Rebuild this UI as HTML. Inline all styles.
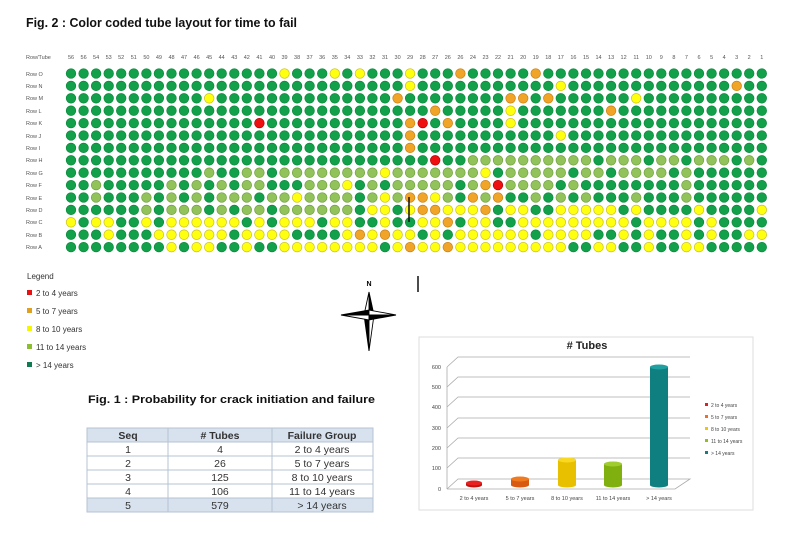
<!DOCTYPE html>
<html><head><meta charset="utf-8"><style>
html,body{margin:0;padding:0;background:#fff;width:797px;height:535px;overflow:hidden}
svg{display:block;font-family:"Liberation Sans",Arial,sans-serif}
</style></head><body>
<svg id="s" width="797" height="535" viewBox="0 0 797 535" xmlns="http://www.w3.org/2000/svg">
<text x="26" y="27" font-size="13" font-weight="bold" fill="#111" textLength="271" lengthAdjust="spacingAndGlyphs">Fig. 2 : Color coded tube layout for time to fail</text>
<g font-size="5.5" fill="#555">
<text x="26" y="59">Row/Tube</text>
<text x="26" y="76">Row O</text><text x="26" y="88">Row N</text><text x="26" y="100">Row M</text>
<text x="26" y="113">Row L</text><text x="26" y="125">Row K</text><text x="26" y="138">Row J</text>
<text x="26" y="150">Row I</text><text x="26" y="162">Row H</text><text x="26" y="175">Row G</text>
<text x="26" y="187">Row F</text><text x="26" y="200">Row E</text><text x="26" y="212">Row D</text>
<text x="26" y="224">Row C</text><text x="26" y="237">Row B</text><text x="26" y="249">Row A</text>
</g>
<g id="hdr" font-size="5.5" fill="#555" text-anchor="middle">
<text x="71" y="59">56</text><text x="83.6" y="59">56</text><text x="96.1" y="59">54</text><text x="108.7" y="59">53</text><text x="121.2" y="59">52</text><text x="133.8" y="59">51</text><text x="146.4" y="59">50</text><text x="158.9" y="59">49</text><text x="171.5" y="59">48</text><text x="184" y="59">47</text><text x="196.6" y="59">46</text><text x="209.2" y="59">45</text><text x="221.7" y="59">44</text><text x="234.3" y="59">43</text><text x="246.8" y="59">42</text><text x="259.4" y="59">41</text><text x="272" y="59">40</text><text x="284.5" y="59">39</text><text x="297.1" y="59">38</text><text x="309.6" y="59">37</text><text x="322.2" y="59">36</text><text x="334.8" y="59">35</text><text x="347.3" y="59">34</text><text x="359.9" y="59">33</text><text x="372.4" y="59">32</text><text x="385" y="59">31</text><text x="397.6" y="59">30</text><text x="410.1" y="59">29</text><text x="422.7" y="59">28</text><text x="435.2" y="59">27</text><text x="447.8" y="59">26</text><text x="460.4" y="59">26</text><text x="472.9" y="59">24</text><text x="485.5" y="59">23</text><text x="498" y="59">22</text><text x="510.6" y="59">21</text><text x="523.2" y="59">20</text><text x="535.7" y="59">19</text><text x="548.3" y="59">18</text><text x="560.8" y="59">17</text><text x="573.4" y="59">16</text><text x="586" y="59">15</text><text x="598.5" y="59">14</text><text x="611.1" y="59">13</text><text x="623.6" y="59">12</text><text x="636.2" y="59">11</text><text x="648.8" y="59">10</text><text x="661.3" y="59">9</text><text x="673.9" y="59">8</text><text x="686.4" y="59">7</text><text x="699" y="59">6</text><text x="711.6" y="59">5</text><text x="724.1" y="59">4</text><text x="736.7" y="59">3</text><text x="749.2" y="59">2</text><text x="761.8" y="59">1</text>
</g>
<g id="dots"></g>
<line x1="409" y1="197" x2="409" y2="222" stroke="#111" stroke-width="1.5"/>

<g font-size="8" fill="#333">
<text x="27" y="279">Legend</text>
<rect x="27" y="290" width="5" height="5" fill="#e81010"/><text x="36" y="296">2 to 4 years</text>
<rect x="27" y="308" width="5" height="5" fill="#e0a020"/><text x="36" y="314">5 to 7 years</text>
<rect x="27" y="326" width="5" height="5" fill="#f6f600"/><text x="36" y="332">8 to 10 years</text>
<rect x="27" y="344" width="5" height="5" fill="#8cbf30"/><text x="36" y="350">11 to 14 years</text>
<rect x="27" y="362" width="5" height="5" fill="#107a50"/><text x="36" y="368">&gt; 14 years</text>
</g>

<text x="369" y="286" font-size="7" font-weight="bold" text-anchor="middle">N</text>
<g stroke="#000" stroke-width="0.9">
<polygon points="369,292 374,315 369,315" fill="#000"/><polygon points="369,292 364,315 369,315" fill="#fff"/>
<polygon points="369,351 364,315 369,315" fill="#000"/><polygon points="369,351 374,315 369,315" fill="#fff"/>
<polygon points="341,315 369,310 369,315" fill="#000"/><polygon points="341,315 369,320 369,315" fill="#fff"/>
<polygon points="396,315 369,320 369,315" fill="#000"/><polygon points="396,315 369,310 369,315" fill="#fff"/>
</g>
<line x1="418" y1="276" x2="418" y2="292" stroke="#111" stroke-width="1.5"/>

<text x="88" y="403" font-size="11" font-weight="bold" fill="#111" textLength="287" lengthAdjust="spacingAndGlyphs">Fig. 1 :  Probability for crack initiation and failure</text>

<g font-size="10.5" fill="#333" text-anchor="middle">
<rect x="87" y="428" width="286" height="14" fill="#d7e2ee"/>
<rect x="87" y="498" width="286" height="14" fill="#d7e2ee"/>
<g stroke="#b5c3d3" stroke-width="1" fill="none">
<rect x="87" y="428" width="286" height="84"/>
<line x1="87" y1="442" x2="373" y2="442"/><line x1="87" y1="456" x2="373" y2="456"/><line x1="87" y1="470" x2="373" y2="470"/><line x1="87" y1="484" x2="373" y2="484"/><line x1="87" y1="498" x2="373" y2="498"/>
<line x1="168" y1="428" x2="168" y2="512"/><line x1="272" y1="428" x2="272" y2="512"/>
</g>
<text x="128" y="439" font-weight="bold">Seq</text><text x="220" y="439" font-weight="bold"># Tubes</text><text x="322" y="439" font-weight="bold">Failure Group</text>
<text x="128" y="453">1</text><text x="220" y="453">4</text><text x="322" y="453">2 to 4 years</text>
<text x="128" y="467">2</text><text x="220" y="467">26</text><text x="322" y="467">5 to 7 years</text>
<text x="128" y="481">3</text><text x="220" y="481">125</text><text x="322" y="481">8 to 10 years</text>
<text x="128" y="495">4</text><text x="220" y="495">106</text><text x="322" y="495">11 to 14 years</text>
<text x="128" y="509">5</text><text x="220" y="509">579</text><text x="322" y="509">&gt; 14 years</text>
</g>

<rect x="419" y="337" width="334" height="173" fill="#fff" stroke="#ddd"/>
<text x="587" y="349" font-size="11" font-weight="bold" text-anchor="middle" fill="#222">#  Tubes</text>
<g stroke="#aaa" stroke-width="0.8" fill="none">
<polyline points="447,489 458,479 690,479 675,489 447,489"/>
<polyline points="447,468 458,458 690,458"/>
<polyline points="447,448 458,438 690,438"/>
<polyline points="447,428 458,418 690,418"/>
<polyline points="447,407 458,397 690,397"/>
<polyline points="447,387 458,377 690,377"/>
<polyline points="447,367 458,357 690,357"/>
<line x1="447" y1="367" x2="447" y2="489"/>
</g>
<g font-size="5.5" fill="#444" text-anchor="end">
<text x="441" y="491">0</text><text x="441" y="470">100</text><text x="441" y="450">200</text><text x="441" y="430">300</text><text x="441" y="409">400</text><text x="441" y="389">500</text><text x="441" y="369">600</text>
</g>
<g font-size="5.5" fill="#444" text-anchor="middle">
<text x="474" y="500">2 to 4 years</text><text x="520" y="500">5 to 7 years</text><text x="567" y="500">8 to 10 years</text><text x="613" y="500">11 to 14 years</text><text x="659" y="500">&gt; 14 years</text>
</g>
<g>
<rect x="466" y="483" width="16" height="2" fill="#c01010"/><ellipse cx="474" cy="485" rx="8" ry="2.5" fill="#c01010"/><ellipse cx="474" cy="483" rx="8" ry="2.5" fill="#e82020"/>
<rect x="511" y="479" width="18" height="6" fill="#d85a10"/><ellipse cx="520" cy="485" rx="9" ry="2.5" fill="#d85a10"/><ellipse cx="520" cy="479" rx="9" ry="2.5" fill="#f07a20"/>
<rect x="558" y="460" width="18" height="25" fill="#e8c000"/><ellipse cx="567" cy="485" rx="9" ry="2.5" fill="#e8c000"/><ellipse cx="567" cy="460" rx="9" ry="2.5" fill="#f8d820"/>
<rect x="604" y="464" width="18" height="21" fill="#80b010"/><ellipse cx="613" cy="485" rx="9" ry="2.5" fill="#80b010"/><ellipse cx="613" cy="464" rx="9" ry="2.5" fill="#a0cc30"/>
<rect x="650" y="367" width="18" height="118" fill="#0f7f80"/><ellipse cx="659" cy="485" rx="9" ry="2.5" fill="#0f7f80"/><ellipse cx="659" cy="367" rx="9" ry="2.5" fill="#20a0a0"/>
</g>
<g font-size="5" fill="#444">
<rect x="705" y="403" width="3" height="3" fill="#e02020"/><text x="711" y="407">2 to 4 years</text>
<rect x="705" y="415" width="3" height="3" fill="#f07020"/><text x="711" y="419">5 to 7 years</text>
<rect x="705" y="427" width="3" height="3" fill="#f0c800"/><text x="711" y="431">8 to 10 years</text>
<rect x="705" y="439" width="3" height="3" fill="#90c020"/><text x="711" y="443">11 to 14 years</text>
<rect x="705" y="451" width="3" height="3" fill="#108080"/><text x="711" y="455">&gt; 14 years</text>
</g>
</svg>
<script>
var rows=[
"GGGGGGGGGGGGGGGG"+"GYGGGYGYGGGYGGGOGGGG"+"GOGGGGGGGGGGGGGGGGGG",
"GGGGGGGGGGGGGGGG"+"GGGGGGGGGGGYGGGGGGGG"+"GGGYGGGGGGGGGGGGGOGG",
"GGGGGGGGGGGYGGGG"+"GGGGGGGGGGOGGGGGGGGO"+"OGOGGGGGGYGGGGGGGGGG",
"GGGGGGGGGGGGGGGG"+"GGGGGGGGGGGGGOGGGGGY"+"GGGGGGGOGGGGGGGGGGGG",
"GGGGGGGGGGGGGGGR"+"GGGGGGGGGGGORGOGGGGY"+"GGGGGGGGGGGGGGGGGGGG",
"GGGGGGGGGGGGGGGG"+"GGGGGGGGGGGOGGGGGGGG"+"GGGYGGGGGGGGGGGGGGGG",
"GGGGGGGGGGGGGGGG"+"GGGGGGGGGGGOGGGGGGGG"+"GGGGGGGGGGGGGGGGGGGG",
"GGGGGGGGGGGGGGGG"+"GGGGGGGGGGGGGRGGLLLL"+"LLLLLLGLLLGLLGLLLGLG",
"GGGGGGGGGGGLGGLL"+"GLLLLLLLLYLLLLLLLYGL"+"LLLLGLLGLLLLGLGGGGGG",
"GGLGGGGGLGLGLGLL"+"GGGLLLYGLGLLLLLGLORL"+"LLLGLGGGGGGGGLGGGGGG",
"GGLGGGLGLGLGLLLG"+"LLYLLLLGLYLOOYLGOLOG"+"GLGLGLGGGLGGGLGGGGGG",
"GGGGGGLGLLLGLGLL"+"GLLLLLLGYYGYOOYYYOGY"+"YGGYYYYYGYGGGGYGGGGY",
"YGYYGGYGYYYYYYGY"+"GYYYGYYGGYGGYYOGYYGG"+"YYYYYYYYYGYYYYGYGGGG",
"GGGYGGGYYYYYYGYY"+"YYGGGGYOYOYYGYGYYYYY"+"YGYYYYGGYGYGGYGYGGYY",
"GGGGGGGGYGYYGGYG"+"GYYYYYYYYGYOYYOYYYYY"+"YYYYGGYYGGYGGYYGGGGG"];
var col={G:["#12a04a","#0c8a3c"],L:["#92c25a","#6fa040"],Y:["#ffff10","#c8c020"],O:["#f0a428","#c88010"],R:["#ee1010","#b00000"]};
var h="";
for(var r=0;r<15;r++){var s=rows[r];for(var i=0;i<56;i++){var c=col[s.charAt(i)]||col.G;
h+='<circle cx="'+(71+i*12.56).toFixed(1)+'" cy="'+(73.5+r*12.4).toFixed(1)+'" r="4.8" fill="'+c[0]+'" stroke="'+c[1]+'" stroke-width="0.7"/>';}}
document.getElementById("dots").innerHTML=h;
</script>
</body></html>
